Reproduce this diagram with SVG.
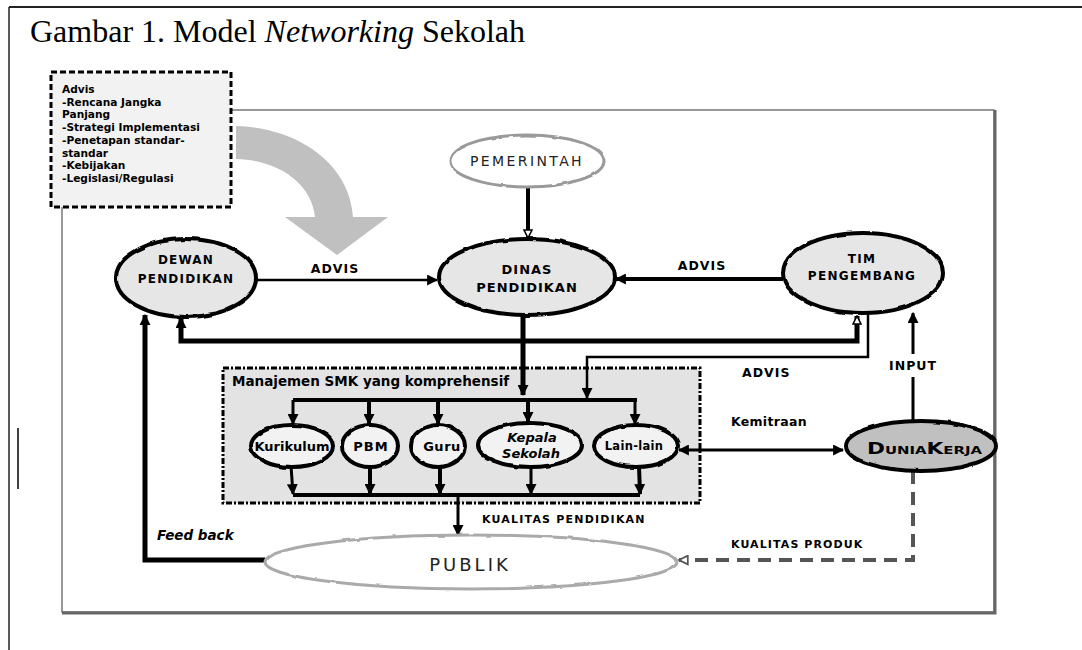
<svg xmlns="http://www.w3.org/2000/svg" width="1082" height="650" viewBox="0 0 1082 650">
<style>
.b{font-family:"DejaVu Sans",Verdana,sans-serif;font-weight:bold;fill:#000}
.r{font-family:"DejaVu Sans",Verdana,sans-serif;fill:#222}
.m{text-anchor:middle}
.e{stroke:#000;stroke-width:4;filter:url(#rough)}
.c{fill:none;stroke:#000}
</style>
<defs>
<filter id="rough" x="-10%" y="-10%" width="120%" height="120%"><feTurbulence type="fractalNoise" baseFrequency="0.09" numOctaves="1" seed="3"/><feDisplacementMap in="SourceGraphic" scale="3" xChannelSelector="R" yChannelSelector="G"/></filter>
<marker id="a" viewBox="0 0 10 10" refX="9" refY="5" markerWidth="11" markerHeight="11" markerUnits="userSpaceOnUse" orient="auto-start-reverse"><path d="M0,0 L10,5 L0,10 z" fill="#000"/></marker>
<marker id="h" viewBox="0 0 10 10" refX="9" refY="5" markerWidth="10" markerHeight="10" markerUnits="userSpaceOnUse" orient="auto"><path d="M1,1 L9,5 L1,9 z" fill="#fff" stroke="#000" stroke-width="1.6"/></marker>
<marker id="g" viewBox="0 0 10 10" refX="9" refY="5" markerWidth="11" markerHeight="11" markerUnits="userSpaceOnUse" orient="auto"><path d="M1,1 L9,5 L1,9 z" fill="#fff" stroke="#555" stroke-width="1.6"/></marker>
</defs>
<rect width="1082" height="650" fill="#fff"/>
<g id="frame">
<line x1="9" y1="7" x2="1082" y2="7" stroke="#222" stroke-width="2"/>
<line x1="9" y1="7" x2="9" y2="650" stroke="#222" stroke-width="1.5"/>
<line x1="18" y1="428" x2="18" y2="489" stroke="#000" stroke-width="1.5"/>
<rect x="62" y="110" width="932" height="502" fill="none" stroke="#777" stroke-width="1.5"/>
<path d="M995,110 V613 H62" fill="none" stroke="#666" stroke-width="3"/>
</g>
<text id="title" x="30" y="42" font-family="Liberation Serif,serif" font-size="32" fill="#000">Gambar 1. Model <tspan font-style="italic">Networking</tspan> Sekolah</text>
<g id="advis-box">
<rect x="51" y="72" width="180" height="135" fill="#f2f2f2" stroke="#000" stroke-width="3" stroke-dasharray="6,3"/>
<g class="b" font-size="10.6">
<text x="62" y="93">Advis</text>
<text x="62" y="106">-Rencana Jangka</text>
<text x="62" y="118">Panjang</text>
<text x="62" y="131">-Strategi Implementasi</text>
<text x="62" y="144">-Penetapan standar-</text>
<text x="62" y="157">standar</text>
<text x="62" y="169">-Kebijakan</text>
<text x="62" y="182">-Legislasi/Regulasi</text>
</g>
</g>
<path id="big-arrow" d="M236,126 C300,128 350,165 353,217 L388,217 L337,255 L285,217 L315,217 C312,185 280,160 236,159 Z" fill="#c0c0c0"/>
<g id="smk-box">
<rect x="223" y="368" width="477" height="135" fill="#e3e3e3" stroke="#000" stroke-width="3" stroke-dasharray="6,2,2,2"/>
<text class="b" x="232" y="386" font-size="13.5">Manajemen SMK yang komprehensif</text>
</g>
<g id="connectors">
<line class="c" x1="528" y1="187" x2="528" y2="238" stroke-width="4" marker-end="url(#h)"/>
<line class="c" x1="256" y1="280" x2="437" y2="280" stroke-width="2.5" marker-end="url(#a)"/>
<line class="c" x1="783" y1="279" x2="616" y2="279" stroke-width="4" marker-end="url(#a)"/>
<path class="c" d="M181,318 V341 H857 V316" stroke-width="5" marker-start="url(#a)" marker-end="url(#h)"/>
<path class="c" d="M868,314 V357 H587 V398" stroke-width="2.5" marker-end="url(#a)"/>
<line class="c" x1="523" y1="315" x2="523" y2="395" stroke-width="5" marker-end="url(#a)"/>
<path class="c" d="M293,400 H637" stroke-width="4"/>
<line class="c" x1="293" y1="400" x2="293" y2="424" stroke-width="3" marker-end="url(#a)"/>
<line class="c" x1="369" y1="400" x2="369" y2="424" stroke-width="4" marker-end="url(#a)"/>
<line class="c" x1="438" y1="400" x2="438" y2="424" stroke-width="4" marker-end="url(#a)"/>
<line class="c" x1="528" y1="400" x2="528" y2="422" stroke-width="4" marker-end="url(#a)"/>
<line class="c" x1="635" y1="400" x2="635" y2="424" stroke-width="3" marker-end="url(#a)"/>
<line class="c" x1="291" y1="466" x2="293" y2="494" stroke-width="3" marker-end="url(#a)"/>
<line class="c" x1="370" y1="466" x2="370" y2="494" stroke-width="4" marker-end="url(#a)"/>
<line class="c" x1="440" y1="466" x2="440" y2="494" stroke-width="4" marker-end="url(#a)"/>
<line class="c" x1="531" y1="466" x2="531" y2="494" stroke-width="3" marker-end="url(#a)"/>
<line class="c" x1="639" y1="466" x2="640" y2="494" stroke-width="4" marker-end="url(#a)"/>
<path class="c" d="M293,495 H640" stroke-width="4"/>
<line class="c" x1="458" y1="495" x2="458" y2="535" stroke-width="3" marker-end="url(#a)"/>
<path class="c" d="M265,560 H145 V315" stroke-width="5" marker-end="url(#a)"/>
<line class="c" x1="913" y1="420" x2="913" y2="377" stroke-width="3"/>
<line class="c" x1="913" y1="354" x2="913" y2="313" stroke-width="3" marker-end="url(#a)"/>
<line class="c" x1="679" y1="450" x2="843" y2="450" stroke-width="3" marker-start="url(#a)" marker-end="url(#a)"/>
<path d="M913,471 V560 H679" fill="none" stroke="#555" stroke-width="4" stroke-dasharray="13,8" marker-end="url(#g)"/>
</g>
<g id="labels" class="b">
<text x="335" y="273" font-size="12.5" letter-spacing="1" class="b m">ADVIS</text>
<text x="702" y="270" font-size="12.5" letter-spacing="1" class="b m">ADVIS</text>
<text x="742" y="377" font-size="12.5" letter-spacing="1">ADVIS</text>
<text x="913" y="370" font-size="12.5" letter-spacing="1" class="b m">INPUT</text>
<text x="731" y="426" font-size="12.5" letter-spacing="0.3">Kemitraan</text>
<text x="482" y="523" font-size="11" letter-spacing="1.2">KUALITAS PENDIDIKAN</text>
<text x="731" y="548" font-size="11" letter-spacing="1.1">KUALITAS PRODUK</text>
<text x="157" y="540" font-size="13.5" font-style="italic">Feed back</text>
</g>
<g id="pemerintah">
<ellipse cx="527" cy="161" rx="77" ry="26" fill="#fff" stroke="#999" stroke-width="3" filter="url(#rough)"/>
<text class="r m" x="527" y="166" font-size="14" letter-spacing="2.4">PEMERINTAH</text>
</g>
<g id="dinas">
<ellipse class="e" cx="527" cy="277" rx="88" ry="38" fill="#e6e6e6"/>
<text class="b m" x="527" y="274" font-size="13" letter-spacing="1">DINAS</text>
<text class="b m" x="527" y="292" font-size="13" letter-spacing="1">PENDIDIKAN</text>
</g>
<g id="dewan">
<ellipse class="e" cx="186" cy="278" rx="70" ry="39" fill="#e6e6e6"/>
<text class="b m" x="186" y="264" font-size="12" letter-spacing="1.2">DEWAN</text>
<text class="b m" x="186" y="283" font-size="12" letter-spacing="1.2">PENDIDIKAN</text>
</g>
<g id="tim">
<ellipse class="e" cx="863" cy="273" rx="80" ry="40" fill="#e6e6e6"/>
<text class="b m" x="862" y="263" font-size="12" letter-spacing="1.3">TIM</text>
<text class="b m" x="862" y="280" font-size="12" letter-spacing="1.3">PENGEMBANG</text>
</g>
<g id="kurikulum">
<ellipse class="e" cx="292" cy="446" rx="41" ry="21" fill="#f2f2f2"/>
<text class="b m" x="292" y="451" font-size="13">Kurikulum</text>
</g>
<g id="pbm">
<ellipse class="e" cx="370" cy="446" rx="28" ry="21" fill="#f2f2f2"/>
<text class="b m" x="371" y="451" font-size="13" letter-spacing="1">PBM</text>
</g>
<g id="guru">
<ellipse class="e" cx="438" cy="446" rx="27" ry="21" fill="#f2f2f2"/>
<text class="b m" x="442" y="451" font-size="13" letter-spacing="0.5">Guru</text>
</g>
<g id="kepala">
<ellipse class="e" cx="530" cy="445" rx="52" ry="22" fill="#f2f2f2"/>
<text class="b m" x="532" y="442" font-size="13" font-style="italic">Kepala</text>
<text class="b m" x="531" y="458" font-size="13" font-style="italic">Sekolah</text>
</g>
<g id="lain">
<ellipse class="e" cx="636" cy="446" rx="42" ry="21" fill="#f2f2f2"/>
<text class="b m" x="634" y="450" font-size="11.5" letter-spacing="0.3">Lain-lain</text>
</g>
<g id="dunia">
<ellipse class="e" cx="921" cy="446" rx="75" ry="25" fill="#c0c0c0"/>
<text class="b" x="867" y="454" font-size="16" font-variant="small-caps" textLength="115" lengthAdjust="spacingAndGlyphs">DuniaKerja</text>
</g>
<g id="publik">
<ellipse cx="471" cy="562" rx="206" ry="27" fill="#fff" stroke="#aaa" stroke-width="3" filter="url(#rough)"/>
<text class="r m" x="470" y="571" font-size="18" letter-spacing="3">PUBLIK</text>
</g>
</svg>
